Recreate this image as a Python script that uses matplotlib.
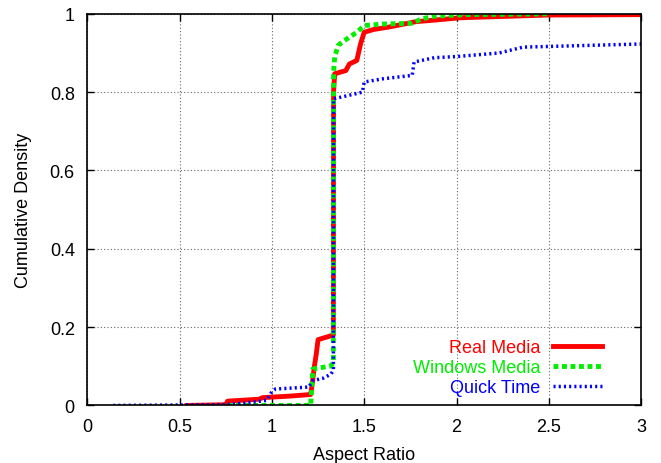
import matplotlib
matplotlib.use('Agg')
import matplotlib.pyplot as plt

plt.rcParams['font.family'] = ['Liberation Sans', 'DejaVu Sans']
plt.rcParams['font.size'] = 13

# CDF points (aspect ratio, cumulative density)
real_x = [0.54, 0.75, 0.76, 0.93, 0.95, 1.10, 1.21, 1.22, 1.23, 1.24, 1.25, 1.32,
          1.333, 1.334, 1.34, 1.40, 1.42, 1.46, 1.48, 1.50, 1.55, 1.63, 1.78, 1.88,
          2.02, 2.5, 3.0]
real_y = [0.0, 0.002, 0.011, 0.016, 0.020, 0.024, 0.028, 0.06, 0.10, 0.13, 0.168, 0.178,
          0.18, 0.80, 0.847, 0.855, 0.872, 0.881, 0.923, 0.953, 0.96, 0.966, 0.98, 0.984,
          0.99, 0.997, 0.998]

win_x = [0.76, 1.21, 1.222, 1.32, 1.333, 1.334, 1.34, 1.36, 1.40, 1.46, 1.50, 1.6,
         1.76, 1.81, 1.88, 2.05, 2.49]
win_y = [0.0, 0.0, 0.093, 0.101, 0.11, 0.85, 0.89, 0.92, 0.934, 0.953, 0.97, 0.974,
         0.976, 0.987, 0.994, 0.998, 1.0]

qt_x = [0.14, 0.75, 0.85, 0.97, 1.0, 1.02, 1.20, 1.22, 1.28, 1.32, 1.333, 1.334,
        1.40, 1.49, 1.50, 1.60, 1.76, 1.77, 1.88, 2.0, 2.23, 2.36, 3.0]
qt_y = [0.0, 0.002, 0.006, 0.013, 0.035, 0.042, 0.047, 0.063, 0.070, 0.080, 0.09, 0.783,
        0.79, 0.80, 0.826, 0.834, 0.843, 0.877, 0.888, 0.891, 0.90, 0.915, 0.923]

xticks = [0, 0.5, 1, 1.5, 2, 2.5, 3]
xtick_labels = ['0', '0.5', '1', '1.5', '2', '2.5', '3']
yticks = [0, 0.2, 0.4, 0.6, 0.8, 1]
ytick_labels = ['0', '0.2', '0.4', '0.6', '0.8', '1']

fig = plt.figure(figsize=(6.61, 4.64), dpi=100)
ax = fig.add_axes([0.132, 0.124, 0.838, 0.844])

ax.plot(real_x, real_y, color='#ff0000', lw=3.5, label='Real Media')
ax.plot(win_x, win_y, color='#00ee00', lw=3.5, linestyle=(0, (1, 0.75)), label='Windows Media')
ax.plot(qt_x, qt_y, color='#0000ff', lw=2.5, linestyle=(0, (0.6, 0.9)), label='Quick Time')

ax.set_xlim(0, 3)
ax.set_ylim(0, 1)
ax.set_xticks(xticks)
ax.set_xticklabels(xtick_labels)
ax.set_yticks(yticks)
ax.set_yticklabels(ytick_labels)
ax.tick_params(direction='in', top=True, right=True, length=5, width=1, pad=9)
ax.grid(True, linestyle=(0, (1, 2)), color='#666666', lw=0.8)
for s in ax.spines.values():
    s.set_linewidth(1.2)

ax.set_xlabel('Aspect Ratio', labelpad=8)
ax.set_ylabel('Cumulative Density', labelpad=13)

ax.legend(loc='lower right', bbox_to_anchor=(0.958, -0.018), frameon=False,
          markerfirst=False, labelcolor='linecolor', handlelength=2.7,
          handletextpad=0.7, labelspacing=0.16, fontsize=13)

fig.savefig('out.png', dpi=100)
